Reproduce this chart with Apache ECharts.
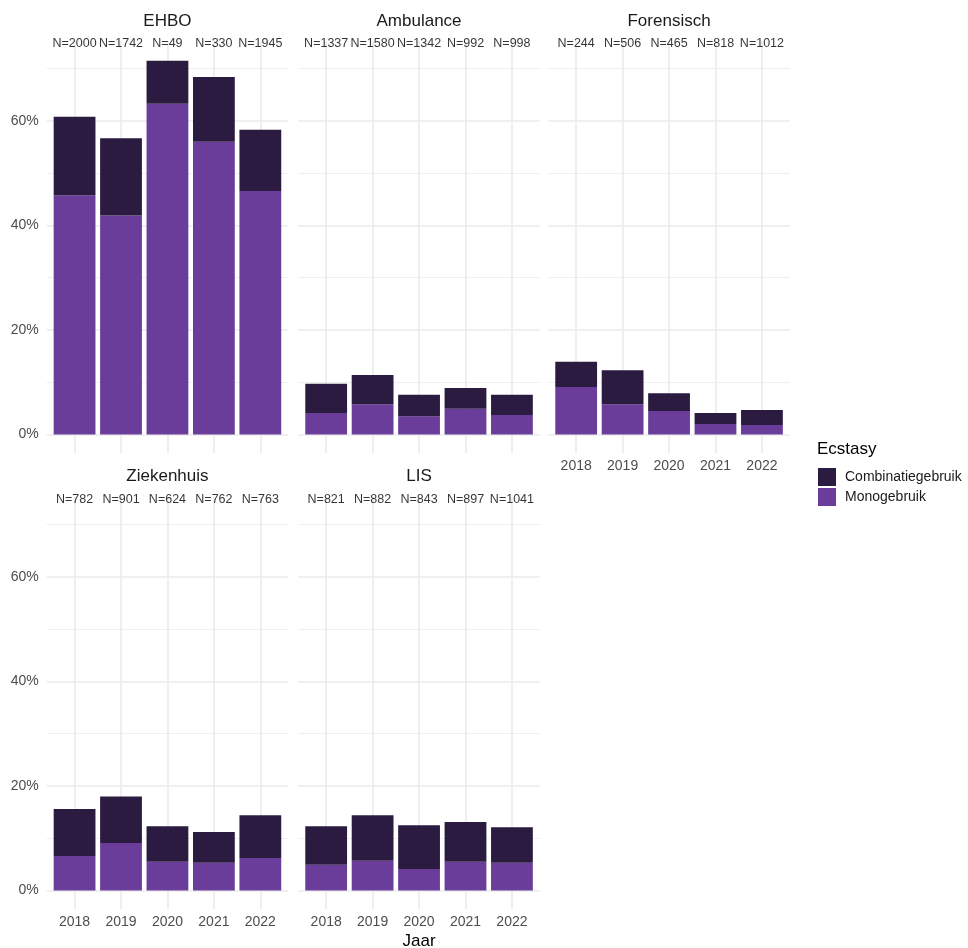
<!DOCTYPE html>
<html><head><meta charset="utf-8">
<script src="https://cdn.jsdelivr.net/npm/echarts@6/dist/echarts.min.js"></script>
<style>html,body{margin:0;padding:0;background:#fff;} #c{width:968px;height:948px;}</style>
</head><body><div id="c"></div>
<script>
// ---- data ----
const years = ['2018', '2019', '2020', '2021', '2022'];
const yMajorTicks = [0, 20, 40, 60];
const yMinorTicks = [10, 30, 50, 70];

const monoEHBO = [45.8, 41.9, 63.3, 56.0, 46.6];
const combiEHBO = [15.0, 14.8, 8.2, 12.4, 11.7];
const nEHBO = [2000, 1742, 49, 330, 1945];

const monoAmbulance = [4.1, 5.8, 3.5, 4.9, 3.7];
const combiAmbulance = [5.6, 5.6, 4.1, 4.0, 3.9];
const nAmbulance = [1337, 1580, 1342, 992, 998];

const monoForensisch = [9.1, 5.8, 4.5, 2.0, 1.8];
const combiForensisch = [4.8, 6.5, 3.4, 2.1, 2.9];
const nForensisch = [244, 506, 465, 818, 1012];

const monoZiekenhuis = [6.6, 9.1, 5.5, 5.3, 6.2];
const combiZiekenhuis = [9.0, 8.9, 6.8, 5.9, 8.2];
const nZiekenhuis = [782, 901, 624, 762, 763];

const monoLIS = [4.9, 5.7, 4.1, 5.5, 5.3];
const combiLIS = [7.4, 8.7, 8.4, 7.6, 6.8];
const nLIS = [821, 882, 843, 897, 1041];

// ---- layout / style ----
const FONT = 'Liberation Sans, Arial, Helvetica, sans-serif';
const MONO = '#6A3D9A';
const COMBI = '#2C1B40';
const GRIDC = '#EBEBEB';
const colLeft = [46.7, 298.3, 548.3];
const rowTop = [41, 497];
const PW = 241.5, PH = 412;
const UNIT = PW / 5.2;           // one category step in px (ggplot discrete expansion 0.6 each side)
const YMIN = -3.55, YMAX = 75.3, NLABEL_Y = 74.9;

const panels = [
  {name: 'EHBO', mono: monoEHBO, combi: combiEHBO, n: nEHBO, col: 0, row: 0, yl: true, xl: false},
  {name: 'Ambulance', mono: monoAmbulance, combi: combiAmbulance, n: nAmbulance, col: 1, row: 0, yl: false, xl: false},
  {name: 'Forensisch', mono: monoForensisch, combi: combiForensisch, n: nForensisch, col: 2, row: 0, yl: false, xl: true},
  {name: 'Ziekenhuis', mono: monoZiekenhuis, combi: combiZiekenhuis, n: nZiekenhuis, col: 0, row: 1, yl: true, xl: true},
  {name: 'LIS', mono: monoLIS, combi: combiLIS, n: nLIS, col: 1, row: 1, yl: false, xl: true}
];

const grids = [], xAxes = [], yAxes = [], series = [], titles = [];
const hidden = {axisLabel: {show: false}, axisTick: {show: false}, axisLine: {show: false}, splitLine: {show: false}};

panels.forEach((p, i) => {
  const gA = 2 * i, gB = 2 * i + 1;
  // grid A: whole panel, value axes, for gridlines + axis labels
  grids.push({left: colLeft[p.col], top: rowTop[p.row], width: PW, height: PH, containLabel: false, outerBoundsMode: 'none'});
  // grid B: band area of the categories, for bars + N labels
  grids.push({left: colLeft[p.col] + 0.1 * UNIT, top: rowTop[p.row], width: 5 * UNIT, height: PH, containLabel: false, outerBoundsMode: 'none'});
  xAxes.push(Object.assign({type: 'value', gridIndex: gA, min: 0.4, max: 5.6}, hidden));
  xAxes.push(Object.assign({type: 'category', gridIndex: gB, data: years, boundaryGap: true}, hidden));
  yAxes.push(Object.assign({type: 'value', gridIndex: gA, min: YMIN, max: YMAX}, hidden));
  yAxes.push(Object.assign({type: 'value', gridIndex: gB, min: YMIN, max: YMAX}, hidden));

  const lines = [];
  yMajorTicks.forEach(v => lines.push({yAxis: v, lineStyle: {width: 1.6}, label: {show: p.yl, formatter: v + '%', distance: 8}}));
  yMinorTicks.forEach(v => lines.push({yAxis: v, lineStyle: {width: 0.8}, label: {show: false}}));
  years.forEach((y, k) => lines.push({xAxis: k + 1, lineStyle: {width: 1.6}, label: {show: p.xl, formatter: y, distance: 6}}));
  series.push({
    type: 'line', xAxisIndex: gA, yAxisIndex: gA, data: [], z: 1, silent: true,
    markLine: {
      z: 1, silent: true, symbol: 'none', animation: false,
      lineStyle: {color: GRIDC, type: 'solid'},
      label: {position: 'start', color: '#4D4D4D', fontSize: 14, fontFamily: FONT},
      emphasis: {disabled: true},
      data: lines
    }
  });
  series.push({
    type: 'bar', name: 'Monogebruik', stack: 's' + i, xAxisIndex: gB, yAxisIndex: gB, z: 2,
    barWidth: '90%', itemStyle: {color: MONO}, silent: true,
    data: p.mono
  });
  series.push({
    type: 'bar', name: 'Combinatiegebruik', stack: 's' + i, xAxisIndex: gB, yAxisIndex: gB, z: 2,
    barWidth: '90%', itemStyle: {color: COMBI}, silent: true,
    data: p.combi
  });
  series.push({
    type: 'scatter', xAxisIndex: gB, yAxisIndex: gB, z: 3, silent: true,
    symbolSize: 1, itemStyle: {color: 'rgba(0,0,0,0)'},
    label: {show: true, position: 'inside', formatter: d => 'N=' + d.value[2], color: '#000', fontSize: 12.5, fontFamily: FONT},
    data: years.map((y, k) => [y, NLABEL_Y, p.n[k]])
  });
  titles.push({
    text: p.name, left: colLeft[p.col] + PW / 2, textAlign: 'center',
    top: p.row === 0 ? 13 : 468, padding: 0,
    textStyle: {fontSize: 17, fontWeight: 'normal', color: '#1A1A1A', fontFamily: FONT}
  });
});

titles.push({text: 'Ecstasy', left: 817, top: 440.5, padding: 0,
  textStyle: {fontSize: 17, fontWeight: 'normal', color: '#000', fontFamily: FONT}});
titles.push({text: 'Jaar', left: colLeft[1] + PW / 2, textAlign: 'center', top: 932.5, padding: 0,
  textStyle: {fontSize: 17, fontWeight: 'normal', color: '#000', fontFamily: FONT}});

const chart = echarts.init(document.getElementById('c'), null, {renderer: 'canvas'});
chart.setOption({
  animation: false,
  backgroundColor: '#fff',
  textStyle: {fontFamily: FONT},
  title: titles,
  legend: {
    data: ['Combinatiegebruik', 'Monogebruik'],
    orient: 'vertical', left: 818, top: 468, padding: 0,
    itemWidth: 18, itemHeight: 18, itemGap: 2, icon: 'rect', selectedMode: false,
    textStyle: {fontSize: 14, color: '#1A1A1A', fontFamily: FONT, padding: [0, 0, 0, 4]}
  },
  grid: grids,
  xAxis: xAxes,
  yAxis: yAxes,
  series: series
});
</script>
</body></html>
